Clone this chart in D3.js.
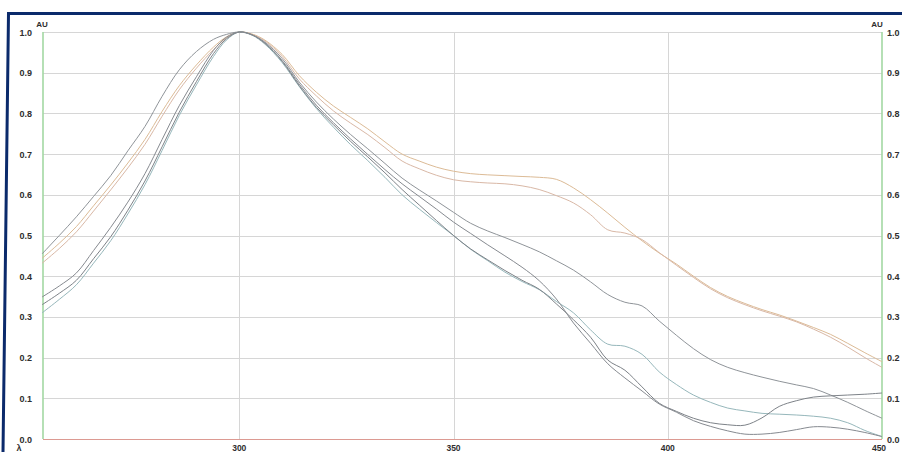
<!DOCTYPE html>
<meta charset="utf-8">
<style>
  body { margin: 0; background: #fff; }
  text { font-family: 'Liberation Sans', Arial, sans-serif; font-weight: bold; fill: #2e2e2e; }
  .grid line { stroke: #d6d6d6; stroke-width: 1; }
  .trace { fill: none; stroke-width: 1; }
</style>
<body>
<script src="https://cdn.jsdelivr.net/npm/d3@7"></script>
<script>

// wavelength grid (nm), shared by every trace
var wavelengths = [254, 258, 262, 266, 270, 274, 278, 282, 286, 290, 294, 297, 300,
  303, 306, 310, 314, 318, 322, 326, 330, 334, 338, 342, 346, 350,
  354, 358, 362, 366, 370, 374, 378, 382, 386, 390, 394, 398, 402, 406,
  410, 414, 418, 422, 426, 430, 434, 438, 442, 446, 450];

// absorbance (AU), normalised at 300 nm
var orangeUpper = [0.444, 0.481, 0.522, 0.573, 0.624, 0.678, 0.736, 0.805, 0.868, 0.919, 0.963, 0.988, 1.0,
  0.995, 0.98, 0.945, 0.893, 0.852, 0.818, 0.79, 0.762, 0.73, 0.70, 0.683, 0.668, 0.658,
  0.652, 0.649, 0.647, 0.645, 0.643, 0.638, 0.617, 0.588, 0.555, 0.52, 0.487, 0.457, 0.43, 0.40,
  0.372, 0.35, 0.333, 0.318, 0.305, 0.29, 0.274, 0.257, 0.235, 0.212, 0.19];

var orangeLower = [0.432, 0.468, 0.509, 0.56, 0.612, 0.666, 0.724, 0.793, 0.858, 0.911, 0.957, 0.985, 1.0,
  0.994, 0.978, 0.94, 0.885, 0.843, 0.806, 0.776, 0.748, 0.716, 0.683, 0.664, 0.648, 0.637,
  0.632, 0.629, 0.627, 0.622, 0.613, 0.598, 0.58, 0.551, 0.514, 0.506, 0.49, 0.458, 0.427, 0.397,
  0.369, 0.347, 0.33, 0.315, 0.302, 0.288, 0.27, 0.25, 0.226, 0.20, 0.176];

var grayBroad = [0.455, 0.50, 0.546, 0.596, 0.647, 0.708, 0.768, 0.842, 0.907, 0.952, 0.982, 0.994, 1.0,
  0.993, 0.975, 0.935, 0.877, 0.828, 0.786, 0.748, 0.713, 0.677, 0.641, 0.612, 0.585, 0.557,
  0.53, 0.511, 0.495, 0.478, 0.46, 0.438, 0.415, 0.386, 0.355, 0.336, 0.327, 0.29, 0.255, 0.222,
  0.195, 0.176, 0.163, 0.152, 0.142, 0.133, 0.124, 0.108, 0.09, 0.07, 0.051];

var grayDark = [0.349, 0.376, 0.408, 0.463, 0.52, 0.582, 0.652, 0.736, 0.819, 0.89, 0.955, 0.987, 1.0,
  0.993, 0.973, 0.93, 0.872, 0.82, 0.777, 0.737, 0.699, 0.662, 0.627, 0.596, 0.565, 0.533,
  0.505, 0.477, 0.45, 0.422, 0.389, 0.344, 0.285, 0.235, 0.185, 0.15, 0.118, 0.086, 0.066, 0.045,
  0.031, 0.02, 0.012, 0.012, 0.016, 0.023, 0.03, 0.029, 0.024, 0.016, 0.006];

var graySlate = [0.33, 0.358, 0.39, 0.443, 0.497, 0.562, 0.634, 0.718, 0.803, 0.878, 0.947, 0.983, 1.0,
  0.993, 0.972, 0.928, 0.868, 0.815, 0.772, 0.731, 0.693, 0.654, 0.613, 0.575, 0.537, 0.50,
  0.467, 0.44, 0.414, 0.39, 0.368, 0.332, 0.293, 0.25, 0.194, 0.169, 0.128, 0.088, 0.068, 0.051,
  0.04, 0.035, 0.034, 0.052, 0.08, 0.094, 0.103, 0.106, 0.108, 0.11, 0.113];

var teal = [0.31, 0.343, 0.379, 0.432, 0.487, 0.553, 0.625, 0.709, 0.795, 0.87, 0.94, 0.98, 1.0,
  0.992, 0.97, 0.925, 0.866, 0.812, 0.766, 0.723, 0.684, 0.643, 0.60, 0.565, 0.532, 0.50,
  0.466, 0.438, 0.41, 0.387, 0.367, 0.338, 0.31, 0.268, 0.233, 0.228, 0.208, 0.165, 0.134, 0.108,
  0.09, 0.076, 0.069, 0.063, 0.061, 0.059, 0.056, 0.051, 0.04, 0.021, 0.006];

var yTicks = [0.0, 0.1, 0.2, 0.3, 0.4, 0.5, 0.6, 0.7, 0.8, 0.9, 1.0];
var xTicks = [300, 350, 400, 450];

var traces = [
  {values: orangeUpper, color: "#dcbb96"},
  {values: orangeLower, color: "#d9b8a6"},
  {values: grayBroad, color: "#8f9499"},
  {values: teal, color: "#96b7bb"},
  {values: graySlate, color: "#7d8288"},
  {values: grayDark, color: "#868a90"}
];

var W = 902, H = 452;
var plotL = 43, plotR = 882, plotT = 32, plotB = 439;

var x = d3.scaleLinear().domain([254.2, 450]).range([plotL, plotR]);
var y = d3.scaleLinear().domain([0, 1]).range([plotB, plotT]);

var svg = d3.select("body").append("svg")
    .attr("width", W)
    .attr("height", H);

// horizontal grid
svg.append("g").attr("class", "grid")
  .selectAll("line")
  .data(yTicks.filter(function(d) { return d > 0; }))
  .enter().append("line")
    .attr("x1", plotL).attr("x2", plotR)
    .attr("y1", function(d) { return Math.round(y(d)) + 0.5; })
    .attr("y2", function(d) { return Math.round(y(d)) + 0.5; });

// vertical grid
svg.append("g").attr("class", "grid")
  .selectAll("line")
  .data(xTicks.filter(function(d) { return d < 450; }))
  .enter().append("line")
    .attr("x1", function(d) { return Math.round(x(d)) + 0.5; })
    .attr("x2", function(d) { return Math.round(x(d)) + 0.5; })
    .attr("y1", plotT).attr("y2", plotB);

// axis lines
svg.append("line")
    .attr("x1", plotL).attr("x2", plotL).attr("y1", plotT).attr("y2", plotB)
    .style("stroke", "#a3d8a3").style("stroke-width", 1.6);
svg.append("line")
    .attr("x1", plotR).attr("x2", plotR).attr("y1", plotT).attr("y2", plotB)
    .style("stroke", "#a3d8a3").style("stroke-width", 1.6);
svg.append("line")
    .attr("x1", plotL).attr("x2", plotR).attr("y1", plotB + 0.5).attr("y2", plotB + 0.5)
    .style("stroke", "#dc9a92").style("stroke-width", 1.2);

// traces
var line = d3.line()
    .x(function(d, i) { return x(wavelengths[i]); })
    .y(function(d) { return y(d); })
    .curve(d3.curveCatmullRom.alpha(0.5));

svg.selectAll(".trace")
    .data(traces)
  .enter().append("path")
    .attr("class", "trace")
    .attr("d", function(d) { return line(d.values); })
    .style("stroke", function(d) { return d.color; });

// y labels, both sides
svg.selectAll(".ylab")
    .data(yTicks)
  .enter().append("text")
    .attr("class", "ylab")
    .attr("x", 32)
    .attr("y", function(d) { return y(d) + 3.5; })
    .attr("text-anchor", "end")
    .attr("font-size", "9px")
    .text(function(d) { return d.toFixed(1); });

svg.selectAll(".ylabr")
    .data(yTicks)
  .enter().append("text")
    .attr("class", "ylabr")
    .attr("x", 887)
    .attr("y", function(d) { return y(d) + 3.5; })
    .attr("font-size", "9px")
    .text(function(d) { return d.toFixed(1); });

// x labels
svg.selectAll(".xlab")
    .data(xTicks)
  .enter().append("text")
    .attr("class", "xlab")
    .attr("x", function(d) { return x(d) - (d === 450 ? 3 : 0); })
    .attr("y", 451)
    .attr("text-anchor", "middle")
    .attr("font-size", "8.5px")
    .text(function(d) { return d; });

svg.append("text").attr("x", 19).attr("y", 451).attr("text-anchor", "middle")
    .attr("font-size", "9px").text("λ");
svg.append("text").attr("x", 42).attr("y", 27).attr("text-anchor", "middle")
    .attr("font-size", "8px").text("AU");
svg.append("text").attr("x", 877).attr("y", 27).attr("text-anchor", "middle")
    .attr("font-size", "8px").text("AU");

// navy frame (top and left edge)
svg.append("path")
    .attr("d", "M902,13.5 L8.5,13.5 L3,452")
    .style("fill", "none")
    .style("stroke", "#0b2a6b")
    .style("stroke-width", 3);

</script>
</body>
